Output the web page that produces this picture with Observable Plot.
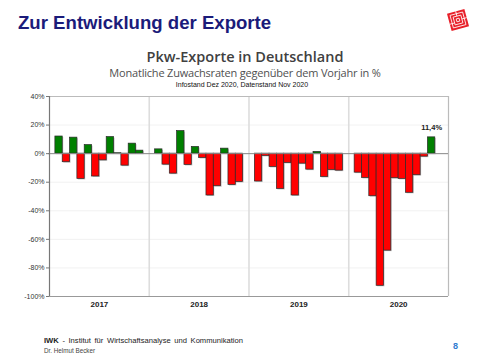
<!DOCTYPE html>
<html>
<head>
<meta charset="utf-8">
<script src="https://cdn.jsdelivr.net/npm/d3@7"></script>
<script src="https://cdn.jsdelivr.net/npm/@observablehq/plot@0.6"></script>
<style>
  html, body { margin: 0; padding: 0; background: #fff; }
  #page { position: relative; width: 480px; height: 360px; overflow: hidden; font-family: "Liberation Sans", Arial, sans-serif; }
  .abs { position: absolute; white-space: nowrap; z-index: 2; }
  #title { left: 18px; top: 12px; font-size: 18.6px; font-weight: bold; color: #1b1b7a; }
  #sub1 { left: 0; width: 490px; text-align: center; top: 47px; font-family: "Open Sans", sans-serif; font-weight: 600; font-size: 14.5px; color: #404040; }
  #sub2 { left: 0; width: 490px; text-align: center; top: 65px; font-family: "Open Sans", sans-serif; font-size: 11px; letter-spacing: -0.2px; color: #505050; }
  #sub3 { left: 0; width: 484px; text-align: center; top: 81px; font-size: 7px; color: #111; }
  #chart { position: absolute; left: 0; top: 86px; z-index: 1; }
  #foot1 { left: 44px; top: 336px; font-size: 7.6px; color: #222; word-spacing: 1.5px; }
  #foot2 { left: 44px; top: 347px; font-size: 6.3px; color: #444; }
  #page8 { left: 453px; top: 341px; font-size: 9px; font-weight: bold; color: #2f7bd0; }
  #logo { position: absolute; left: 445px; top: 7px; }
</style>
</head>
<body>
<div id="page">
  <div id="title" class="abs">Zur Entwicklung der Exporte</div>
  <svg id="logo" width="26" height="26" viewBox="0 0 26 26">
    <g transform="rotate(-15 13 13)">
      <rect x="4" y="4" width="18" height="18" fill="#e8202a"/>
      <rect x="6.5" y="6.5" width="13" height="13" fill="none" stroke="#fff" stroke-width="0.8"/>
      <rect x="9" y="9" width="8" height="8" fill="none" stroke="#fff" stroke-width="0.8"/>
      <rect x="11.5" y="11.5" width="3" height="3" fill="none" stroke="#fff" stroke-width="0.8"/>
      <line x1="13" y1="4" x2="13" y2="9" stroke="#fff" stroke-width="0.8"/>
      <line x1="17" y1="13" x2="22" y2="13" stroke="#fff" stroke-width="0.8"/>
      <line x1="4" y1="15" x2="9" y2="15" stroke="#fff" stroke-width="0.8"/>
    </g>
  </svg>
  <div id="sub1" class="abs">Pkw-Exporte in Deutschland</div>
  <div id="sub2" class="abs">Monatliche Zuwachsraten gegenüber dem Vorjahr in %</div>
  <div id="sub3" class="abs">Infostand Dez 2020, Datenstand Nov 2020</div>
  <div id="chart"></div>
  <div id="foot1" class="abs"><b>IWK</b> - Institut für Wirtschaftsanalyse und Kommunikation</div>
  <div id="foot2" class="abs">Dr. Helmut Becker</div>
  <div id="page8" class="abs">8</div>
</div>
<script>
const years = [2017, 2018, 2019, 2020];
const v2017 = [12, -6, 11.2, -17.7, 6, -16, -4.7, 11.6, 0.3, -8.4, 7, 2.1];
const v2018 = [3, -7.7, -14, 15.8, -7.9, 4.7, -3, -29.3, -22.8, 3.5, -21.9, -19.8];
const v2019 = [-19.5, -1.6, -9.3, -24.7, -6.5, -29.3, -7, -11.2, 1.2, -16.3, -11.4, -11.9];
const v2020 = [-13.3, -17, -29.8, -92.5, -67.9, -17.2, -17.7, -27.4, -15.1, -2.1, 11.4];
const yTicks = [40, 20, 0, -20, -40, -60, -80, -100];

const series = [v2017, v2018, v2019, v2020];
const pad = 0.059;
const w = (1 - 2 * pad) / 12;
const data = [];
years.forEach((yr, i) => {
  series[i].forEach((v, m) => {
    data.push({year: yr, month: m + 1, value: v, x1: yr + pad + m * w, x2: yr + pad + (m + 1) * w});
  });
});
const last = data[data.length - 1];

const chart = Plot.plot({
  width: 480,
  height: 228,
  marginLeft: 49,
  marginRight: 32,
  marginTop: 10,
  marginBottom: 18,
  style: {fontFamily: "Liberation Sans, Arial, sans-serif", fontSize: "7px", color: "#333", background: "transparent"},
  x: {domain: [2017, 2021], label: null},
  y: {domain: [-100, 40], label: null},
  marks: [
    Plot.ruleY(yTicks, {stroke: "#eeeeee", strokeWidth: 0.8}),
    Plot.ruleX(years.slice(1), {stroke: "#dddddd", strokeWidth: 1.6}),
    Plot.ruleY([40], {stroke: "#bbbbbb", strokeWidth: 1.2}),
    Plot.ruleX([2021], {stroke: "#bbbbbb", strokeWidth: 1.2}),
    Plot.ruleY([-100], {stroke: "#999999", strokeWidth: 1}),
    Plot.rectY(data, {x1: "x1", x2: "x2", y1: 0, y2: "value", fill: "#9a9a9a", fillOpacity: 0.6, dx: 1, dy: 1}),
    Plot.rectY(data, {x1: "x1", x2: "x2", y1: 0, y2: "value", fill: d => d.value >= 0 ? "#008000" : "#ff0000", stroke: "#2a2a2a", strokeWidth: 0.7}),
    Plot.ruleY([0], {stroke: "#8a8a8a", strokeWidth: 1, x1: 2016.99, x2: 2021}),
    Plot.ruleX([2017], {stroke: "#777777", strokeWidth: 1.2}),
    Plot.axisY({ticks: yTicks, tickFormat: d => d + "%", tickSize: 3, tickPadding: 2, stroke: "#777", label: null}),
    Plot.axisX({ticks: years.map(y => y + 0.5), tickFormat: d => String(Math.floor(d)), tickSize: 0, tickPadding: 5, fontWeight: "bold", fontSize: 8, fill: "#222", label: null}),
    Plot.text([last], {x: d => (d.x1 + d.x2) / 2, y: "value", text: d => String(d.value).replace(".", ",") + "%", dy: -10, fontWeight: "bold", fontSize: 7.5, fill: "#222"})
  ]
});
document.getElementById("chart").appendChild(chart);
</script>
</body>
</html>
